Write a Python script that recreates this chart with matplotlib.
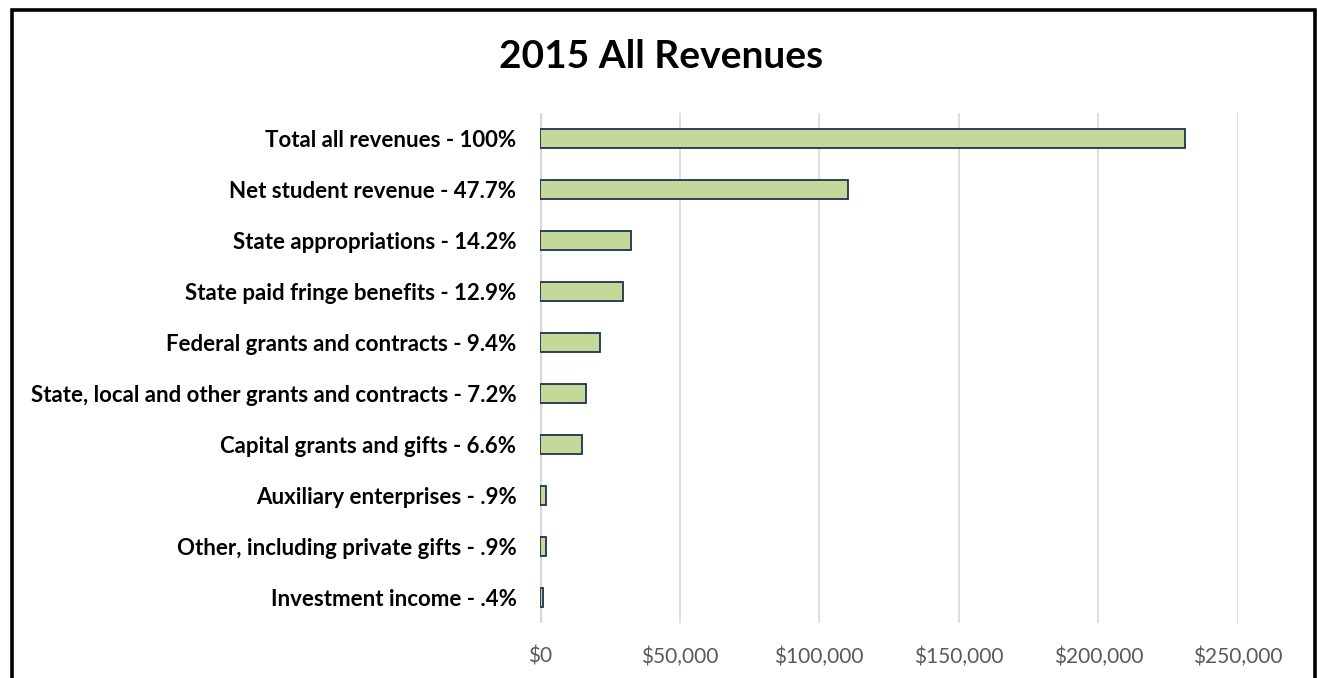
import matplotlib
matplotlib.use('Agg')
import matplotlib.pyplot as plt
from matplotlib.patches import Rectangle
from matplotlib.ticker import FuncFormatter

plt.rcParams['font.family'] = ['Lato', 'DejaVu Sans']

# Data (top to bottom)
categories = [
    'Total all revenues - 100%',
    'Net student revenue - 47.7%',
    'State appropriations - 14.2%',
    'State paid fringe benefits - 12.9%',
    'Federal grants and contracts - 9.4%',
    'State, local and other grants and contracts - 7.2%',
    'Capital grants and gifts - 6.6%',
    'Auxiliary enterprises - .9%',
    'Other, including private gifts - .9%',
    'Investment income - .4%',
]
values = [231000, 110300, 32700, 29800, 21600, 16600, 15000, 2000, 2000, 900]
x_ticks = [0, 50000, 100000, 150000, 200000, 250000]

W, H = 1317, 678
fig = plt.figure(figsize=(W / 100, H / 100), dpi=100)

# plot area
ax = fig.add_axes([540 / W, (H - 623) / H, (1238 - 540) / W, (623 - 113) / H])
ypos = list(range(len(categories)))
ax.barh(ypos, values, height=0.37, color='#C5D89A', edgecolor='#1F3350', linewidth=1.3, zorder=3)
ax.set_ylim(len(categories) - 0.5, -0.5)
ax.set_xlim(0, 250000)
ax.set_yticks(ypos)
ax.set_yticklabels(categories, fontsize=16, fontweight='bold', color='black')
ax.set_xticks(x_ticks)
ax.xaxis.set_major_formatter(FuncFormatter(lambda v, p: f'${v:,.0f}'))
ax.tick_params(axis='x', length=0, labelsize=15, labelcolor='#595959', pad=17)
ax.tick_params(axis='y', length=0, pad=17)
ax.grid(axis='x', color='#D9D9D9', linewidth=1.2, zorder=0)
for s in ax.spines.values():
    s.set_visible(False)
ax.axvline(0, color='#D9D9D9', linewidth=2.5, zorder=1)

fig.text(661 / W, 1 - 56 / H, '2015 All Revenues', ha='center', va='center',
         fontsize=28, fontweight='bold')

# outer border (bottom edge runs off the image)
fig.patches.append(Rectangle((11.5 / W, -0.05), (1315 - 11.5) / W, 1.05 - 9.5 / H,
                             transform=fig.transFigure, fill=False,
                             edgecolor='black', linewidth=2.6))

fig.savefig('out.png', dpi=100)
